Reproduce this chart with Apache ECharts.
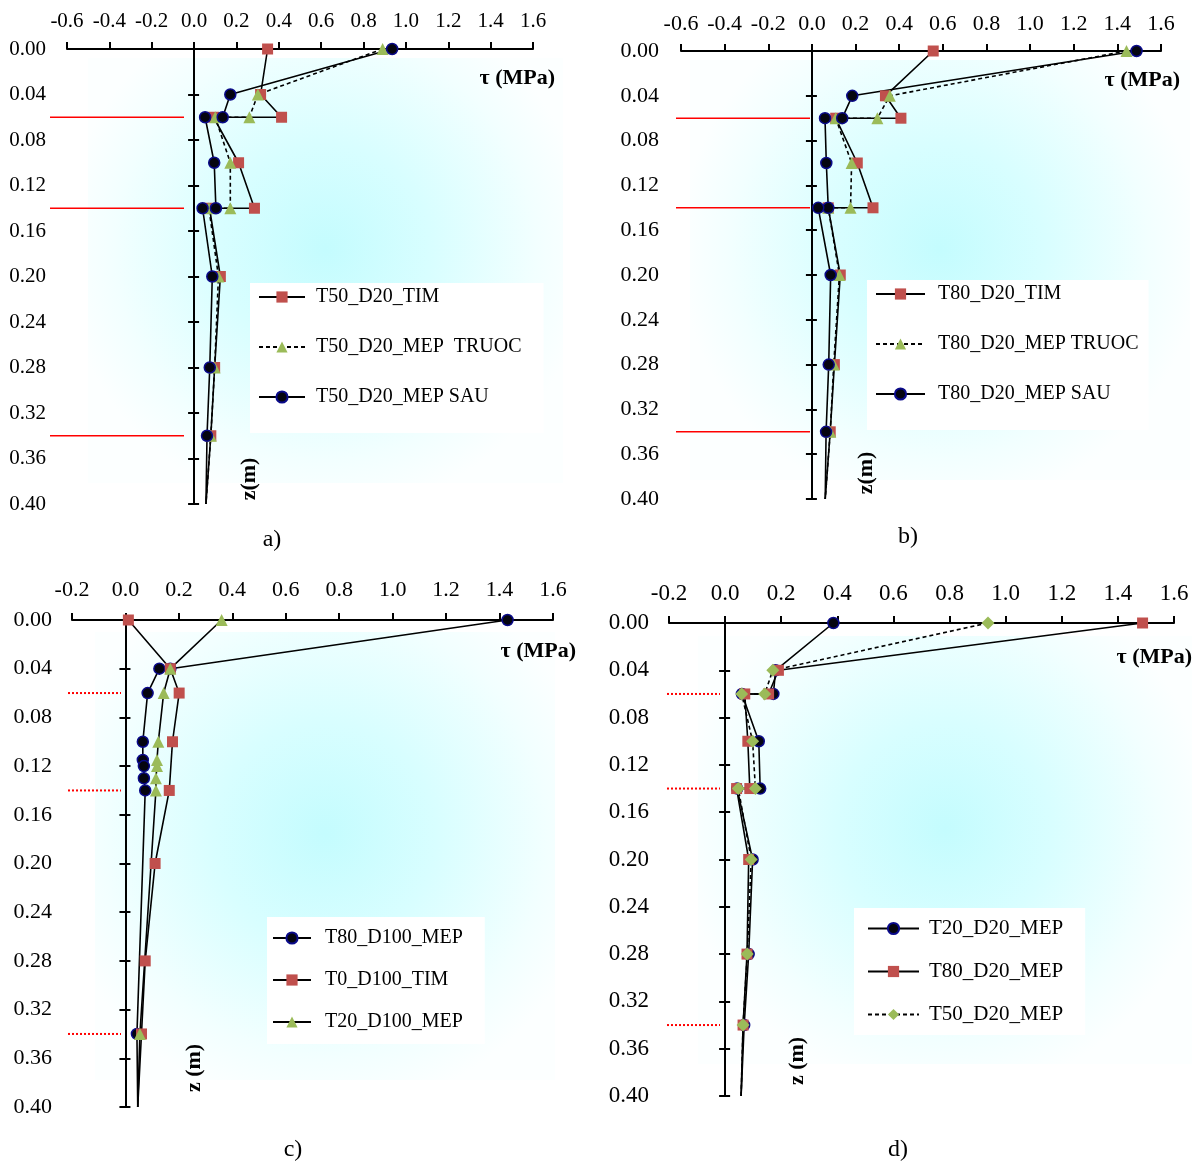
<!DOCTYPE html>
<html><head><meta charset="utf-8">
<script src="https://cdn.jsdelivr.net/npm/echarts@6/dist/echarts.min.js"></script>
<style>html,body{margin:0;padding:0;background:#fff}#c{width:1202px;height:1166px}</style>
</head><body><div id="c"></div>
<script>
// ---------- data (tau in MPa, depth z in m) ----------
const depthAB   = [0, 0.04, 0.06, 0.06, 0.10, 0.14, 0.14, 0.20, 0.28, 0.34, 0.40];
const a_TIM     = [0.347, 0.314, 0.413, 0.092, 0.210, 0.285, 0.073, 0.124, 0.097, 0.079, 0.056];
const a_TRUOC   = [0.890, 0.301, 0.261, 0.100, 0.171, 0.171, 0.070, 0.115, 0.097, 0.079, 0.056];
const a_SAU     = [0.935, 0.171, 0.135, 0.052, 0.095, 0.103, 0.040, 0.086, 0.074, 0.061, 0.056];
const b_TIM     = [0.556, 0.337, 0.408, 0.109, 0.208, 0.280, 0.075, 0.130, 0.103, 0.084, 0.061];
const b_TRUOC   = [1.442, 0.357, 0.300, 0.109, 0.182, 0.177, 0.075, 0.126, 0.100, 0.084, 0.061];
const b_SAU     = [1.488, 0.185, 0.139, 0.060, 0.066, 0.075, 0.029, 0.086, 0.077, 0.065, 0.061];
const depthC80  = [0, 0.04, 0.04, 0.06, 0.10, 0.115, 0.12, 0.13, 0.14, 0.34, 0.40];
const c_T80     = [1.430, 0.168, 0.127, 0.083, 0.065, 0.065, 0.069, 0.069, 0.074, 0.043, 0.046];
const depthC0   = [0, 0.04, 0.06, 0.10, 0.14, 0.20, 0.28, 0.34, 0.40];
const c_T0      = [0.011, 0.168, 0.201, 0.176, 0.164, 0.111, 0.074, 0.060, 0.046];
const depthC20  = [0, 0.04, 0.06, 0.10, 0.115, 0.12, 0.13, 0.14, 0.34, 0.40];
const c_T20     = [0.360, 0.168, 0.143, 0.123, 0.118, 0.118, 0.114, 0.114, 0.054, 0.046];
const depthD    = [0, 0.04, 0.06, 0.06, 0.10, 0.14, 0.14, 0.20, 0.28, 0.34, 0.40];
const d_T20     = [0.386, 0.180, 0.172, 0.060, 0.120, 0.125, 0.043, 0.098, 0.084, 0.068, 0.057];
const d_T80     = [1.488, 0.190, 0.155, 0.070, 0.081, 0.088, 0.041, 0.084, 0.078, 0.064, 0.057];
const d_T50     = [0.937, 0.170, 0.141, 0.059, 0.098, 0.108, 0.047, 0.093, 0.079, 0.064, 0.057];
const interfaces = [0.06, 0.14, 0.34];
const namesA = ['T50_D20_TIM', 'T50_D20_MEP  TRUOC', 'T50_D20_MEP SAU'];
const namesB = ['T80_D20_TIM', 'T80_D20_MEP TRUOC', 'T80_D20_MEP SAU'];
const namesC = ['T80_D100_MEP', 'T0_D100_TIM', 'T20_D100_MEP'];
const namesD = ['T20_D20_MEP', 'T80_D20_MEP', 'T50_D20_MEP'];
const panelTags = ['a)', 'b)', 'c)', 'd)'];
const xTitle = 'τ (MPa)';
const zTitles = ['z(m)', 'z(m)', 'z (m)', 'z (m)'];

// ---------- styling ----------
const FONT = '"Liberation Serif","Times New Roman",serif';
const MK = {
  sq:  {symbol: 'rect', symbolSize: 11, itemStyle: {color: '#c0504d'}},
  tri: {symbol: 'triangle', symbolSize: 12, itemStyle: {color: '#9bbb59'}},
  cir: {symbol: 'circle', symbolSize: 11, itemStyle: {color: '#050510', borderColor: '#0a0a8a', borderWidth: 1.5}},
  dia: {symbol: 'diamond', symbolSize: 13, itemStyle: {color: '#9bbb59'}}
};

const panels = [
  {grid: {left: 67, top: 49, width: 466, height: 455}, xmin: -0.6, fs: 21, xm: 17, ym: 21,
   red: {left: 50, width: 134}, redDash: 'solid', redW: 1.6,
   bg: {x: 88, y: 58, w: 475, h: 425},
   series: [[namesA[0], a_TIM, depthAB, 'sq', 'solid'], [namesA[1], a_TRUOC, depthAB, 'tri', 'dashed'], [namesA[2], a_SAU, depthAB, 'cir', 'solid']],
   legend: {left: 250, top: 283, padding: [4, 22, 26, 8], itemWidth: 46, itemGap: 30, fs: 20, tp: 6, names: namesA},
   xt: [555, 78], zt: [249, 479], tag: [272, 540]},
  {grid: {left: 681, top: 51, width: 480, height: 448}, xmin: -0.6, fs: 22, xm: 16, ym: 22,
   red: {left: 676, width: 134}, redDash: 'solid', redW: 1.6,
   bg: {x: 690, y: 60, w: 500, h: 420},
   series: [[namesB[0], b_TIM, depthAB, 'sq', 'solid'], [namesB[1], b_TRUOC, depthAB, 'tri', 'dashed'], [namesB[2], b_SAU, depthAB, 'cir', 'solid']],
   legend: {left: 867, top: 280, padding: [4, 10, 26, 8], itemWidth: 49, itemGap: 30, fs: 20, tp: 8, names: namesB},
   xt: [1180, 80], zt: [866, 473], tag: [908, 537]},
  {grid: {left: 72, top: 620, width: 481, height: 487}, xmin: -0.2, fs: 22, xm: 19, ym: 20,
   red: {left: 68, width: 53}, redDash: [2, 2], redW: 2,
   bg: {x: 95, y: 632, w: 460, h: 448},
   series: [[namesC[0], c_T80, depthC80, 'cir', 'solid'], [namesC[1], c_T0, depthC0, 'sq', 'solid'], [namesC[2], c_T20, depthC20, 'tri', 'solid']],
   legend: {left: 267, top: 917, padding: [11, 22, 12, 5], itemWidth: 38, itemGap: 22, fs: 20, tp: 9, names: namesC},
   xt: [576, 651], zt: [194, 1068], tag: [293, 1150]},
  {grid: {left: 669, top: 623, width: 505, height: 473}, xmin: -0.2, fs: 23, xm: 18, ym: 20,
   red: {left: 667, width: 53}, redDash: [2, 2], redW: 2,
   bg: {x: 698, y: 636, w: 494, h: 428},
   series: [[namesD[0], d_T20, depthD, 'cir', 'solid'], [namesD[1], d_T80, depthD, 'sq', 'solid'], [namesD[2], d_T50, depthD, 'dia', 'dashed']],
   legend: {left: 854, top: 908, padding: [10, 22, 10, 13], itemWidth: 51, itemGap: 22, fs: 21, tp: 5, names: namesD},
   xt: [1192, 657], zt: [797, 1061], tag: [898, 1150]}
];

const grid = [], xAxis = [], yAxis = [], series = [], legend = [], graphic = [];
const N = panels.length;
panels.forEach((p, i) => {
  grid.push(Object.assign({containLabel: false}, p.grid));
});
panels.forEach((p, i) => {
  grid.push({left: p.red.left, width: p.red.width, top: p.grid.top, height: p.grid.height});
});
const yScale = {type: 'value', min: 0, max: 0.4, interval: 0.04, inverse: true, splitLine: {show: false}};
panels.forEach((p, i) => {
  xAxis.push({gridIndex: i, type: 'value', position: 'top', min: p.xmin, max: 1.6, interval: 0.2,
    axisLine: {onZero: false, lineStyle: {color: '#000', width: 2}},
    axisTick: {length: 7, lineStyle: {color: '#000', width: 2}},
    axisLabel: {margin: p.xm, fontSize: p.fs, fontFamily: FONT, color: '#000', formatter: v => v.toFixed(1), showMinLabel: true, showMaxLabel: true},
    splitLine: {show: false}});
});
panels.forEach((p, i) => {
  xAxis.push({gridIndex: N + i, type: 'value', min: 0, max: 1, show: false});
});
const yMain = [], yLab = [], yIn = [], yRed = [];
panels.forEach((p, i) => {
  yMain.push(yAxis.length);
  yAxis.push(Object.assign({}, yScale, {gridIndex: i, position: 'left',
    axisLine: {show: true, onZero: true, onZeroAxisIndex: i, lineStyle: {color: '#000', width: 2}},
    axisTick: {show: true, length: 6, lineStyle: {color: '#000', width: 2}},
    axisLabel: {show: false}}));
});
panels.forEach((p, i) => {
  yLab.push(yAxis.length);
  yAxis.push(Object.assign({}, yScale, {gridIndex: i, position: 'left',
    axisLine: {show: false, onZero: false}, axisTick: {show: false},
    axisLabel: {show: true, margin: p.ym, fontSize: p.fs, fontFamily: FONT, color: '#000', formatter: v => v.toFixed(2), showMinLabel: true, showMaxLabel: true}}));
});
panels.forEach((p, i) => {
  yIn.push(yAxis.length);
  yAxis.push(Object.assign({}, yScale, {gridIndex: i, position: 'left',
    axisLine: {show: true, onZero: true, onZeroAxisIndex: i, lineStyle: {color: '#000', width: 2}},
    axisTick: {show: true, inside: true, length: 5, lineStyle: {color: '#000', width: 2}},
    axisLabel: {show: false}}));
});
panels.forEach((p, i) => {
  yRed.push(yAxis.length);
  yAxis.push(Object.assign({}, yScale, {gridIndex: N + i, show: false}));
});

panels.forEach((p, i) => {
  p.series.forEach(([name, xs, zs, mk, dash]) => {
    const m = MK[mk];
    series.push({
      type: 'line', name, xAxisIndex: i, yAxisIndex: yMain[i], clip: false,
      symbol: m.symbol, symbolSize: m.symbolSize, itemStyle: m.itemStyle,
      lineStyle: {color: '#000', width: 1.6, type: dash === 'dashed' ? [4, 3] : 'solid'},
      data: xs.map((x, k) => k === xs.length - 1 ? {value: [x, zs[k]], symbol: 'none'} : [x, zs[k]]),
      z: 3, animation: false
    });
  });
  interfaces.forEach(zv => {
    series.push({type: 'line', xAxisIndex: N + i, yAxisIndex: yRed[i], symbol: 'none', silent: true,
      lineStyle: {color: '#ff0000', width: p.redW, type: p.redDash}, data: [[0, zv], [1, zv]], animation: false});
  });
  const L = p.legend;
  legend.push({orient: 'vertical', left: L.left, top: L.top, padding: L.padding, itemWidth: L.itemWidth,
    itemHeight: 14, itemGap: L.itemGap, backgroundColor: '#ffffff', selectedMode: false,
    textStyle: {fontFamily: FONT, fontSize: L.fs, color: '#000', lineHeight: 20, padding: [0, 0, 0, L.tp]},
    data: L.names});
  graphic.push({type: 'rect', z: -10, shape: {x: p.bg.x, y: p.bg.y, width: p.bg.w, height: p.bg.h},
    style: {fill: {type: 'radial', x: 0.5, y: 0.45, r: 0.62, global: false,
      colorStops: [{offset: 0, color: '#c4fcfe'}, {offset: 0.4, color: '#d8feff'}, {offset: 0.8, color: '#f2ffff'}, {offset: 1, color: '#fcffff'}]}}});
  graphic.push({type: 'text', z: 100, x: p.xt[0], y: p.xt[1],
    style: {text: xTitle, font: 'bold 22px ' + FONT, fill: '#000', align: 'right', verticalAlign: 'middle', textAlign: 'right', textVerticalAlign: 'middle'}});
  graphic.push({type: 'text', z: 100, x: p.zt[0], y: p.zt[1], rotation: Math.PI / 2,
    style: {text: zTitles[i], font: 'bold 22px ' + FONT, fill: '#000', align: 'center', verticalAlign: 'middle', textAlign: 'center', textVerticalAlign: 'middle'}});
  graphic.push({type: 'text', z: 100, x: p.tag[0], y: p.tag[1],
    style: {text: panelTags[i], font: '24px ' + FONT, fill: '#000', align: 'center', verticalAlign: 'middle', textAlign: 'center', textVerticalAlign: 'middle'}});
});

const chart = echarts.init(document.getElementById('c'), null, {renderer: 'canvas'});
chart.setOption({animation: false, backgroundColor: '#ffffff', grid, xAxis, yAxis, series, legend, graphic});
</script>
</body></html>
